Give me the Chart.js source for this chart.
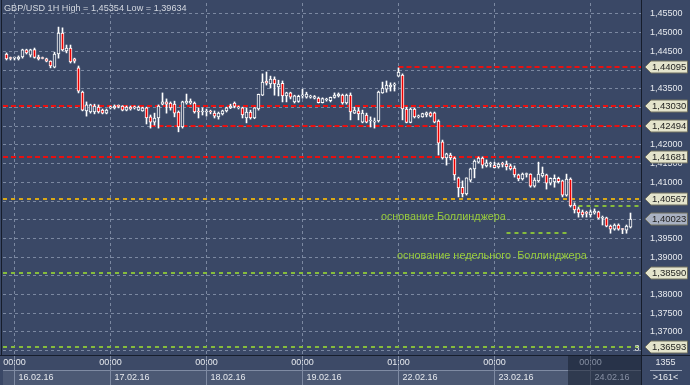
<!DOCTYPE html>
<html><head><meta charset="utf-8">
<script src="https://cdn.jsdelivr.net/npm/chart.js@4.4.1/dist/chart.umd.min.js"></script>
<style>html,body{margin:0;padding:0;background:#3a4764;}canvas{display:block}</style>
</head><body>
<canvas id="c" width="690" height="385" style="width:690px;height:385px"></canvas>
<script>
// ---- data (GBP/USD 1H) ----
const open = [
1.4443,1.4432,1.4432,1.4430,1.4435,1.4454,1.4440,1.4455,1.4435,1.4432,
1.4430,1.4424,1.4408,1.4443,1.4499,1.4451,1.4459,1.4430,1.4406,1.4341,
1.4291,1.4288,1.4288,1.4301,1.4293,1.4285,1.4299,1.4299,1.4304,1.4304,
1.4293,1.4301,1.4299,1.4293,1.4291,1.4299,1.4275,1.4261,1.4272,1.4309,
1.4315,1.4312,1.4309,1.4288,1.4248,1.4312,1.4312,1.4312,1.4289,1.4288,
1.4288,1.4289,1.4285,1.4275,1.4283,1.4291,1.4299,1.4312,1.4299,1.4299,
1.4272,1.4288,1.4272,1.4296,1.4333,1.4371,1.4363,1.4376,1.4355,1.4365,
1.4331,1.4339,1.4315,1.4316,1.4331,1.4328,1.4328,1.4325,1.4325,1.4313,
1.4320,1.4318,1.4327,1.4331,1.4333,1.4312,1.4333,1.4285,1.4291,1.4261,
1.4280,1.4264,1.4261,1.4264,1.4339,1.4349,1.4355,1.4360,1.4384,1.4387,
1.4296,1.4260,1.4296,1.4275,1.4275,1.4280,1.4286,1.4286,1.4264,1.4208,
1.4165,1.4173,1.4165,1.4112,1.4087,1.4069,1.4106,1.4136,1.4154,1.4165,
1.4144,1.4149,1.4146,1.4141,1.4149,1.4149,1.4144,1.4138,1.4120,1.4109,
1.4121,1.4122,1.4090,1.4104,1.4117,1.4120,1.4098,1.4101,1.4111,1.4104,
1.4066,1.4109,1.4039,1.4029,1.4021,1.4018,1.4013,1.4018,1.4021,1.4004,
1.4005,1.3983,1.3975,1.3986,1.3975,1.3972,1.3980];
const high = [
1.4446,1.4435,1.4435,1.4438,1.4456,1.4456,1.4456,1.4459,1.4440,1.4435,
1.4432,1.4425,1.4448,1.4515,1.4513,1.4467,1.4467,1.4432,1.4411,1.4344,
1.4315,1.4309,1.4309,1.4307,1.4296,1.4296,1.4304,1.4307,1.4307,1.4305,
1.4304,1.4304,1.4304,1.4304,1.4301,1.4301,1.4280,1.4285,1.4307,1.4339,
1.4323,1.4315,1.4317,1.4291,1.4317,1.4336,1.4323,1.4315,1.4299,1.4299,
1.4296,1.4293,1.4291,1.4288,1.4293,1.4301,1.4309,1.4315,1.4304,1.4301,
1.4299,1.4293,1.4300,1.4336,1.4390,1.4395,1.4384,1.4382,1.4373,1.4371,
1.4341,1.4341,1.4333,1.4333,1.4349,1.4341,1.4333,1.4332,1.4328,1.4326,
1.4325,1.4328,1.4339,1.4339,1.4336,1.4336,1.4339,1.4301,1.4299,1.4293,
1.4285,1.4275,1.4272,1.4344,1.4368,1.4371,1.4366,1.4366,1.4406,1.4390,
1.4301,1.4299,1.4299,1.4280,1.4285,1.4288,1.4288,1.4288,1.4267,1.4213,
1.4178,1.4178,1.4168,1.4114,1.4104,1.4112,1.4138,1.4160,1.4168,1.4168,
1.4160,1.4154,1.4154,1.4152,1.4154,1.4157,1.4149,1.4144,1.4122,1.4125,
1.4125,1.4123,1.4112,1.4154,1.4141,1.4122,1.4112,1.4120,1.4114,1.4106,
1.4122,1.4112,1.4045,1.4034,1.4026,1.4023,1.4026,1.4029,1.4023,1.4010,
1.4007,1.3986,1.3989,1.3989,1.3977,1.3986,1.4018];
const low = [
1.4427,1.4427,1.4427,1.4427,1.4432,1.4443,1.4435,1.4432,1.4427,1.4430,
1.4422,1.4406,1.4406,1.4432,1.4451,1.4446,1.4419,1.4419,1.4339,1.4291,
1.4277,1.4285,1.4283,1.4285,1.4283,1.4283,1.4296,1.4296,1.4299,1.4291,
1.4291,1.4293,1.4296,1.4292,1.4290,1.4256,1.4245,1.4253,1.4245,1.4307,
1.4285,1.4293,1.4275,1.4235,1.4245,1.4309,1.4309,1.4285,1.4272,1.4280,
1.4277,1.4283,1.4272,1.4269,1.4280,1.4288,1.4297,1.4299,1.4296,1.4272,
1.4259,1.4269,1.4270,1.4293,1.4332,1.4360,1.4352,1.4333,1.4331,1.4315,
1.4315,1.4323,1.4312,1.4314,1.4325,1.4325,1.4325,1.4323,1.4312,1.4312,
1.4317,1.4315,1.4325,1.4328,1.4309,1.4309,1.4267,1.4284,1.4267,1.4259,
1.4259,1.4248,1.4245,1.4261,1.4338,1.4341,1.4344,1.4344,1.4383,1.4267,
1.4259,1.4259,1.4272,1.4272,1.4274,1.4275,1.4275,1.4259,1.4173,1.4162,
1.4146,1.4160,1.4106,1.4061,1.4061,1.4066,1.4101,1.4112,1.4152,1.4138,
1.4141,1.4141,1.4138,1.4138,1.4141,1.4133,1.4133,1.4114,1.4104,1.4106,
1.4114,1.4087,1.4087,1.4101,1.4114,1.4082,1.4093,1.4087,1.4098,1.4061,
1.4063,1.4034,1.4018,1.4007,1.4007,1.4007,1.4007,1.4015,1.4002,1.3986,
1.3981,1.3964,1.3972,1.3972,1.3963,1.3964,1.3978];
const close = [
1.4430,1.4431,1.4433,1.4435,1.4454,1.4446,1.4454,1.4434,1.4430,1.4431,
1.4424,1.4411,1.4443,1.4499,1.4454,1.4459,1.4422,1.4424,1.4344,1.4293,
1.4307,1.4307,1.4304,1.4288,1.4285,1.4293,1.4301,1.4304,1.4303,1.4293,
1.4301,1.4296,1.4301,1.4301,1.4299,1.4272,1.4261,1.4272,1.4304,1.4315,
1.4309,1.4299,1.4285,1.4248,1.4315,1.4317,1.4317,1.4288,1.4288,1.4289,
1.4289,1.4288,1.4277,1.4285,1.4291,1.4299,1.4304,1.4303,1.4302,1.4280,
1.4288,1.4272,1.4299,1.4335,1.4368,1.4365,1.4376,1.4363,1.4363,1.4331,
1.4339,1.4328,1.4331,1.4330,1.4332,1.4336,1.4330,1.4329,1.4313,1.4324,
1.4321,1.4327,1.4333,1.4336,1.4312,1.4333,1.4288,1.4293,1.4283,1.4285,
1.4261,1.4266,1.4263,1.4341,1.4352,1.4360,1.4360,1.4361,1.4395,1.4296,
1.4260,1.4296,1.4275,1.4276,1.4284,1.4286,1.4277,1.4261,1.4205,1.4165,
1.4176,1.4165,1.4120,1.4085,1.4069,1.4112,1.4136,1.4157,1.4165,1.4146,
1.4152,1.4150,1.4139,1.4149,1.4148,1.4141,1.4136,1.4120,1.4109,1.4122,
1.4122,1.4090,1.4106,1.4122,1.4125,1.4098,1.4111,1.4111,1.4102,1.4066,
1.4109,1.4037,1.4026,1.4018,1.4013,1.4017,1.4021,1.4023,1.4004,1.4005,
1.3983,1.3975,1.3986,1.3975,1.3974,1.3983,1.4002];

// time axis (bar index of each day start)
const dayIndex = [2, 26, 50, 74, 98, 122, 146];
const dayTime  = ['00:00','00:00','00:00','00:00','01:00','00:00','00:00'];
const dayDate  = ['16.02.16','17.02.16','18.02.16','19.02.16','22.02.16','23.02.16','24.02.16'];

// price axis
const priceTicks = [1.455,1.45,1.445,1.44,1.435,1.43,1.425,1.42,1.415,1.41,1.405,1.40,1.395,1.39,1.385,1.38,1.375,1.37,1.365];
const hiddenTicks = [1.44,1.43,1.425,1.405,1.40,1.385,1.365];

// horizontal levels
const levelValues = [1.44095, 1.43030, 1.42494, 1.41681, 1.40567, 1.38590, 1.36593];
const levelKinds  = ['red','red','red','red','gold','green','green'];
const levelStart  = [98, null, 36, null, null, null, null];
const shortValues = [1.40376, 1.39654];
const shortFrom   = [143, 125];
const shortTo     = [null, 140.4];
const currentPrice = 1.40023;

const noteTexts  = ['основание Боллинджера', 'основание недельного  Боллинджера'];
const noteIndex  = [93.6, 97.6];
const notePrice  = [1.40074, 1.39031];
const noteWidth  = [125, 190];

const titleText = 'GBP/USD 1H High = 1,45354 Low = 1,39634';

// ---- styling ----
const PLOT_BG = '#3a4866';
const GRID = 'rgba(135,148,172,0.85)';
const AXIS_TXT = '#e6e9ee';
const FONT = '"Liberation Sans", Arial, sans-serif';
const KIND = {
  red:   {color:'#e81010', dash:[5,3]},
  gold:  {color:'#d8a818', dash:[4,4]},
  green: {color:'#86bc3c', dash:[4,4]}
};
const YMAX = 1.45794, YMIN = 1.36385;

const idx = open.map((_, i) => i);
const bodies = idx.map(i => ({x: i, y: [open[i], close[i]]}));
const wicks  = idx.map(i => ({x: i, y: [low[i], high[i]]}));
const fmt = v => v.toFixed(5).replace('.', ',');

function tag(c, x0, y, fill, text) {
  c.save();
  c.beginPath();
  c.moveTo(x0 + 4, y);
  c.lineTo(x0 + 10, y - 6);
  c.lineTo(x0 + 46.5, y - 6);
  c.lineTo(x0 + 46.5, y + 6);
  c.lineTo(x0 + 10, y + 6);
  c.closePath();
  c.fillStyle = fill; c.fill();
  c.strokeStyle = '#707060'; c.lineWidth = 1; c.stroke();
  c.fillStyle = '#1e1e1e';
  c.font = '9.5px ' + FONT;
  c.textAlign = 'left'; c.textBaseline = 'middle';
  c.fillText(text, x0 + 11, y + 0.5);
  c.restore();
}

const overlay = {
  id: 'overlay',
  beforeDraw(chart) {
    const c = chart.ctx;
    c.save();
    c.fillStyle = PLOT_BG;
    c.fillRect(0, 0, chart.width, chart.height);
    c.restore();
  },
  beforeDatasetsDraw(chart) {
    const c = chart.ctx, xs = chart.scales.x, ys = chart.scales.y, a = chart.chartArea;
    c.save();
    c.beginPath(); c.rect(a.left, a.top, a.right - a.left, a.bottom - a.top); c.clip();
    levelValues.forEach((v, i) => {
      const k = KIND[levelKinds[i]];
      const y = Math.round(ys.getPixelForValue(v));
      const x0 = levelStart[i] == null ? a.left : xs.getPixelForValue(levelStart[i]);
      c.strokeStyle = k.color; c.lineWidth = 2; c.setLineDash(k.dash);
      c.beginPath(); c.moveTo(x0, y); c.lineTo(a.right, y); c.stroke();
    });
    shortValues.forEach((v, i) => {
      const k = KIND.green;
      const y = Math.round(ys.getPixelForValue(v));
      const x0 = xs.getPixelForValue(shortFrom[i]);
      const x1 = shortTo[i] == null ? a.right : xs.getPixelForValue(shortTo[i]);
      c.strokeStyle = k.color; c.lineWidth = 2; c.setLineDash(k.dash);
      c.beginPath(); c.moveTo(x0, y); c.lineTo(x1, y); c.stroke();
    });
    c.restore();
  },
  afterDraw(chart) {
    const c = chart.ctx, xs = chart.scales.x, ys = chart.scales.y, a = chart.chartArea;
    const W = chart.width, H = chart.height;
    c.save();
    // notes
    c.fillStyle = '#98cc3c'; c.textAlign = 'left'; c.textBaseline = 'middle';
    noteTexts.forEach((t, i) => {
      c.font = '10px ' + FONT;
      const w = c.measureText(t).width;
      const size = 10 * noteWidth[i] / w;
      c.font = size.toFixed(2) + 'px ' + FONT;
      c.fillText(t, xs.getPixelForValue(noteIndex[i]), ys.getPixelForValue(notePrice[i]));
    });
    // title
    c.font = '10px ' + FONT;
    const tw = c.measureText(titleText).width;
    c.font = (10 * 183 / tw).toFixed(2) + 'px ' + FONT;
    c.fillStyle = '#d4d8e0';
    c.fillText(titleText, 4, 8);
    // small marker
    c.font = '9px ' + FONT; c.fillStyle = '#e0e0e0'; c.textAlign = 'center';
    c.fillText('3', a.right - 4, a.bottom - 6);

    // bottom axis
    const yb = a.bottom;
    c.fillStyle = '#3d4a67'; c.fillRect(0, yb, a.right, 15);
    c.fillStyle = '#4c5974'; c.fillRect(3, yb + 15, a.right - 3, H - yb - 15);
    c.strokeStyle = '#7f8ba3'; c.lineWidth = 1;
    dayIndex.forEach(k => {
      const px = Math.round(xs.getPixelForValue(k)) + 0.5;
      c.beginPath(); c.moveTo(px - 1, yb + 1); c.lineTo(px - 1, H); c.stroke();
    });
    c.beginPath(); c.moveTo(3, yb + 15.5); c.lineTo(a.right, yb + 15.5); c.stroke();
    // shaded right part
    c.fillStyle = 'rgba(24,32,50,0.55)'; c.fillRect(568, yb + 1, a.right - 568, H - yb - 1);
    c.font = '9px ' + FONT; c.textBaseline = 'middle';
    dayIndex.forEach((k, i) => {
      const px = xs.getPixelForValue(k);
      c.fillStyle = px > 568 ? '#8790a3' : AXIS_TXT;
      c.textAlign = 'center'; c.fillText(dayTime[i], px, yb + 8);
      c.textAlign = 'left'; c.fillText(dayDate[i], px + 4, yb + 23);
    });
    // frame lines
    c.strokeStyle = '#161d2b'; c.lineWidth = 1;
    c.beginPath(); c.moveTo(a.right + 0.5, 0); c.lineTo(a.right + 0.5, H); c.stroke();
    c.beginPath(); c.moveTo(0, yb + 0.5); c.lineTo(W, yb + 0.5); c.stroke();
    c.beginPath(); c.moveTo(1.5, 0); c.lineTo(1.5, yb); c.stroke();
    // right-bottom box
    c.fillStyle = AXIS_TXT; c.textAlign = 'center';
    c.fillText('1355', (a.right + W) / 2, yb + 8);
    c.fillText('>161<', (a.right + W) / 2, yb + 23);
    c.strokeStyle = '#9aa4b8';
    c.beginPath(); c.moveTo(a.right + 9, yb + 15.5); c.lineTo(W - 8, yb + 15.5); c.stroke();

    // price tags
    levelValues.forEach(v => tag(c, a.right, Math.round(ys.getPixelForValue(v)), '#e4e4cc', fmt(v)));
    tag(c, a.right, Math.round(ys.getPixelForValue(currentPrice)), '#a9b1c2', fmt(currentPrice));
    c.restore();
  }
};

new Chart(document.getElementById('c'), {
  type: 'bar',
  data: {
    datasets: [
      { label: 'wick', data: wicks, backgroundColor: '#ffffff', borderWidth: 0,
        barThickness: 1, grouped: false, order: 2 },
      { label: 'body', data: bodies,
        backgroundColor: idx.map(i => close[i] >= open[i] ? PLOT_BG : '#ee0000'),
        borderColor: '#ffffff', borderWidth: 1, borderSkipped: false,
        barThickness: 3, minBarLength: 1, grouped: false, order: 1 }
    ]
  },
  options: {
    responsive: false, animation: false, devicePixelRatio: 1,
    layout: { padding: { left: 3, top: 3, right: 0, bottom: 0 } },
    plugins: { legend: { display: false }, tooltip: { enabled: false }, title: { display: false } },
    scales: {
      x: {
        type: 'linear', min: -0.875, max: 158.625, offset: false,
        afterFit(s) { s.height = 30; s.paddingLeft = 0; s.paddingRight = 0; },
        afterBuildTicks(s) { s.ticks = dayIndex.map(v => ({ value: v })); },
        ticks: { display: false },
        grid: { color: GRID, lineWidth: 1, drawTicks: false, offset: false },
        border: { display: false, dash: [3, 3] }
      },
      y: {
        position: 'right', min: YMIN, max: YMAX, beginAtZero: false,
        afterFit(s) { s.width = 49; s.paddingTop = 0; s.paddingBottom = 0; },
        afterBuildTicks(s) { s.ticks = priceTicks.map(v => ({ value: v })); },
        ticks: {
          color: AXIS_TXT, font: { family: FONT, size: 9 }, padding: 9,
          callback: v => hiddenTicks.some(h => Math.abs(h - v) < 1e-7) ? '' : fmt(v)
        },
        grid: { color: GRID, lineWidth: 1, drawTicks: false },
        border: { display: false, dash: [3, 3] }
      }
    }
  },
  plugins: [overlay]
});
</script>
</body></html>
